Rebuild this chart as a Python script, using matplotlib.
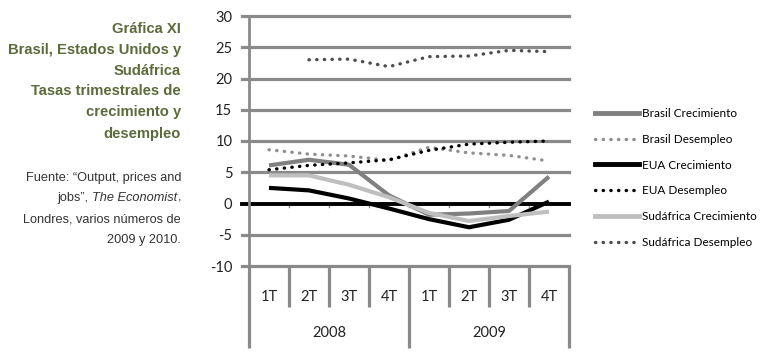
# -*- coding: utf-8 -*-
"""
Grafica XI: Brasil, EUA y Sudafrica, crecimiento y desempleo trimestral
"""

import matplotlib
matplotlib.use("Agg")
import matplotlib.pyplot as plt
import numpy as np
from matplotlib.lines import Line2D

matplotlib.rcParams['font.family'] = ['Lato', 'DejaVu Sans']
matplotlib.rcParams['axes.unicode_minus'] = False

# data
quarters = ["1T", "2T", "3T", "4T", "1T", "2T", "3T", "4T"]
years = ["2008", "2009"]

brasil_crec = [6.1, 7.0, 6.2, 1.3, -1.8, -1.6, -1.2, 4.3]
brasil_desemp = [8.6, 7.9, 7.6, 6.9, 9.0, 8.1, 7.7, 6.8]
eua_crec = [2.5, 2.1, 0.8, -0.8, -2.5, -3.8, -2.6, 0.3]
eua_desemp = [5.4, 6.1, 6.5, 7.0, 8.5, 9.5, 9.8, 10.0]
sud_crec = [4.5, 4.5, 3.0, 1.0, -1.5, -2.8, -2.0, -1.3]
sud_desemp = [np.nan, 23.0, 23.1, 21.9, 23.5, 23.6, 24.5, 24.3]

W, H = 768, 357
fig = plt.figure(figsize=(W/100, H/100), dpi=100)

# plot area in pixels
left, right, top, bottom = 249, 569, 16, 266
ax = fig.add_axes([left/W, 1 - bottom/H, (right-left)/W, (bottom-top)/H])

GRID = "#8a8a8a"
ax.set_xlim(0, 8)
ax.set_ylim(-10, 30)
ax.set_yticks(range(-10, 31, 5))
for y in range(-10, 31, 5):
    if y != 0:
        ax.axhline(y, color=GRID, lw=2.3, zorder=1, xmin=-0.022, clip_on=False)

for s in ["top", "right", "bottom"]:
    ax.spines[s].set_visible(False)
ax.spines["left"].set_color(GRID)
ax.spines["left"].set_linewidth(2)
ax.spines["left"].set_bounds(-10, 30)
ax.tick_params(axis="y", length=0, labelsize=10.5, pad=12, colors="#222222")
ax.set_xticks([])

# zero axis line with small ticks
ax.axhline(0, color="black", lw=2.8, zorder=2, xmin=-0.022, clip_on=False)
for k in range(1, 8):
    ax.plot([k, k], [0, -0.6], color=GRID, lw=1, zorder=1)

x = np.arange(8) + 0.5
dot = (0, (0.1, 2.2))
ax.plot(x, brasil_crec, color="#808080", lw=3, zorder=3, solid_capstyle="butt")
ax.plot(x, brasil_desemp, color="#8f8f8f", lw=2.4, ls=dot,
        dash_capstyle="round", zorder=3)
ax.plot(x, eua_crec, color="black", lw=3, zorder=3, solid_capstyle="butt")
ax.plot(x, eua_desemp, color="black", lw=2.4, ls=dot,
        dash_capstyle="round", zorder=4)
ax.plot(x, sud_crec, color="#bfbfbf", lw=3, zorder=3, solid_capstyle="butt")
ax.plot(x, sud_desemp, color="#4d4d4d", lw=2.4, ls=dot,
        dash_capstyle="round", zorder=3)

# category axis: quarter row and year row
tr = ax.get_xaxis_transform()
h = bottom - top
y_short = -(307 - bottom) / h
y_long = -(348 - bottom) / h
for k in range(9):
    yb = y_long if k % 4 == 0 else y_short
    ax.plot([k, k], [0, yb], color=GRID, lw=2.3, transform=tr,
            clip_on=False, solid_capstyle="butt")
for i, q in enumerate(quarters):
    ax.text(i + 0.5, -(297 - bottom) / h, q, transform=tr, ha="center",
            va="center", fontsize=10.5, color="#222222")
for j, yr in enumerate(years):
    ax.text(4*j + 2, -(333 - bottom) / h, yr, transform=tr, ha="center",
            va="center", fontsize=10.5, color="#222222")

# legend
handles = [
    Line2D([], [], color="#808080", lw=3.5),
    Line2D([], [], color="#8f8f8f", lw=2.4, ls=dot, dash_capstyle="round"),
    Line2D([], [], color="black", lw=3.5),
    Line2D([], [], color="black", lw=2.4, ls=dot, dash_capstyle="round"),
    Line2D([], [], color="#bfbfbf", lw=3.5),
    Line2D([], [], color="#4d4d4d", lw=2.4, ls=dot, dash_capstyle="round"),
]
labels = ["Brasil Crecimiento", "Brasil Desempleo", "EUA Crecimiento",
          "EUA Desempleo", "Sudáfrica Crecimiento", "Sudáfrica Desempleo"]
fig.legend(handles, labels, loc="upper left",
           bbox_to_anchor=(595/W, 1 - 108/H), frameon=False,
           fontsize=8.5, handlelength=3.7, handletextpad=0.25,
           labelspacing=1.25, borderpad=0, borderaxespad=0)

# title and source text
TITLE = "#5b6b3a"
title_lines = ["Gráfica XI", "Brasil, Estados Unidos y", "Sudáfrica",
               "Tasas trimestrales de", "crecimiento y", "desempleo"]
title_y = [29, 50, 71, 91, 112, 134]
for t, yy in zip(title_lines, title_y):
    fig.text(181/W, 1 - yy/H, t, ha="right", va="center", fontsize=10.6,
             fontweight="bold", color=TITLE, family="Liberation Sans")

src_y = [178, 198, 219, 240]
src_parts = [
    [("Fuente: “Output, prices and", "normal")],
    [("jobs”, ", "normal"), ("The Economist", "italic"), (",", "normal")],
    [("Londres, varios números de", "normal")],
    [("2009 y 2010.", "normal")],
]
fig.canvas.draw()
renderer = fig.canvas.get_renderer()
for parts, yy in zip(src_parts, src_y):
    xr = 181
    for txt, style in reversed(parts):
        t = fig.text(xr/W, 1 - yy/H, txt, ha="right", va="center",
                     fontsize=9.2, style=style, color="#333333",
                     family="Liberation Sans")
        bb = t.get_window_extent(renderer)
        xr -= bb.width

fig.savefig("out.png", dpi=100)
